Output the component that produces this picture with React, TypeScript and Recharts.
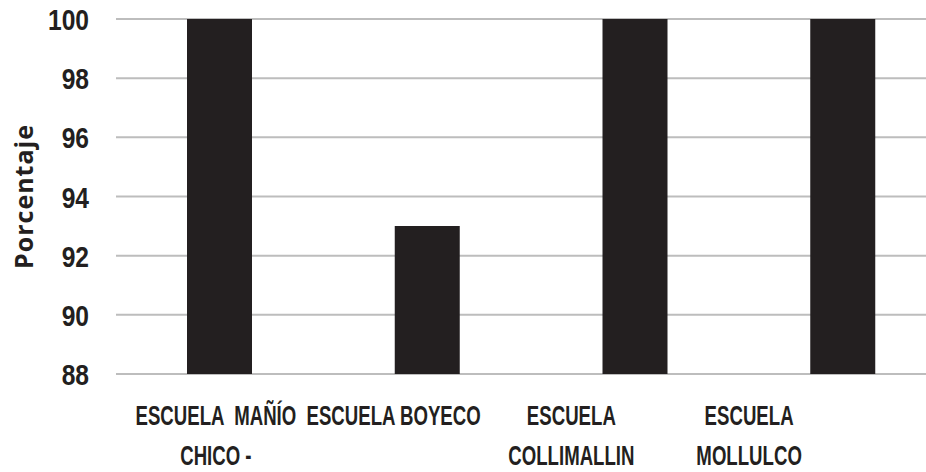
import { Bar, BarChart, CartesianGrid, XAxis, YAxis } from "recharts";

const schools = [
  "ESCUELA  MAÑÍO\nCHICO -",
  "ESCUELA BOYECO",
  "ESCUELA\nCOLLIMALLIN",
  "ESCUELA\nMOLLULCO",
];
const percentages = [100, 93, 100, 100];
const yTicks = [88, 90, 92, 94, 96, 98, 100];

const data = schools.map((school, i) => ({ school, value: percentages[i] }));

const ink = "#231f20";
const sans = "'Liberation Sans', Arial, sans-serif";

function SchoolTick({ x, y, payload }: any) {
  const lines = String(payload.value).split("\n");
  return (
    <g transform={`translate(${x},${y + 51}) scale(0.69,1)`}>
      <text
        x={0}
        y={0}
        textAnchor="middle"
        fill={ink}
        fontFamily={sans}
        fontWeight={700}
        fontSize={27}
      >
        {lines.map((line, i) => (
          <tspan key={i} x={0} dy={i === 0 ? 0 : 40} style={{ whiteSpace: "pre" }}>
            {line}
          </tspan>
        ))}
      </text>
    </g>
  );
}

function PercentTick({ x, y, payload }: any) {
  return (
    <g transform={`translate(${x},${y}) scale(0.82,1)`}>
      <text
        x={0}
        y={0}
        dy={11}
        textAnchor="end"
        fill={ink}
        fontFamily={sans}
        fontWeight={700}
        fontSize={30}
      >
        {payload.value}
      </text>
    </g>
  );
}

export default function App() {
  return (
    <div
      style={{
        position: "absolute",
        left: 0,
        top: 0,
        width: 926,
        height: 472,
        overflow: "hidden",
        background: "#fff",
      }}
    >
      <BarChart
        width={947}
        height={472}
        data={data}
        margin={{ top: 19, right: 0, bottom: 0, left: 0 }}
      >
        <CartesianGrid vertical={false} stroke="#bdbdbd" strokeWidth={2} />
        <XAxis
          xAxisId="bars"
          dataKey="school"
          height={0}
          tick={false}
          tickLine={false}
          axisLine={false}
        />
        <XAxis
          xAxisId="labels"
          dataKey="school"
          height={98}
          padding={{ left: 11, right: 109 }}
          tickLine={false}
          axisLine={false}
          tickSize={0}
          tickMargin={0}
          interval={0}
          tick={<SchoolTick />}
        />
        <YAxis
          width={116}
          domain={[88, 100]}
          ticks={yTicks}
          interval={0}
          allowDataOverflow
          tickLine={false}
          axisLine={false}
          tickSize={0}
          tickMargin={27}
          tick={<PercentTick />}
          label={{
            value: "Porcentaje",
            angle: -90,
            position: "insideLeft",
            offset: 0,
            dx: 24,
            fill: ink,
            fontSize: 25,
            fontWeight: 700,
            fontFamily: "'Open Sans', sans-serif",
            letterSpacing: 1,
            style: { textAnchor: "middle" },
          }}
        />
        <Bar
          xAxisId="bars"
          dataKey="value"
          fill={ink}
          barSize={65}
          isAnimationActive={false}
        />
      </BarChart>
    </div>
  );
}
